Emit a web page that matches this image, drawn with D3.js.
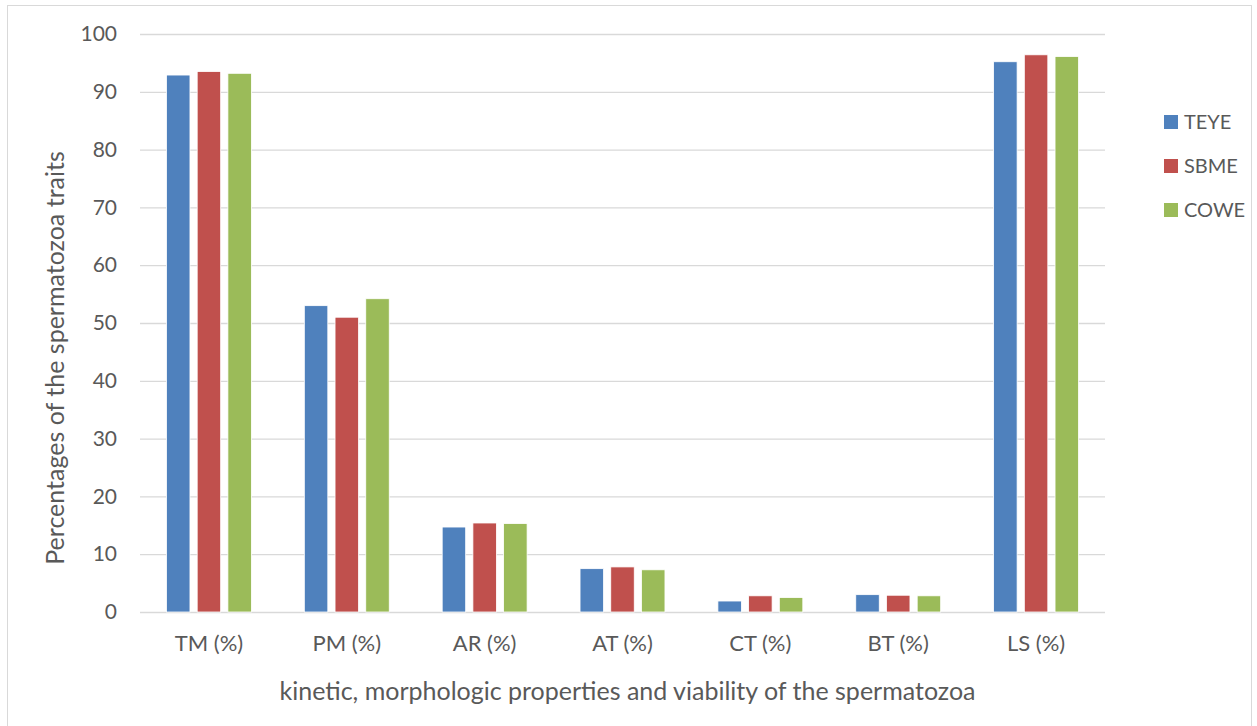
<!DOCTYPE html>
<html>
<head>
<meta charset="utf-8">
<script src="https://cdn.jsdelivr.net/npm/d3@7"></script>
<style>
  body { margin: 0; background: #fff; }
  text { font-family: Lato, "Open Sans", sans-serif; fill: #595959; }
</style>
</head>
<body>
<svg class="chart"></svg>
<script>
var categories = ["TM (%)", "PM (%)", "AR (%)", "AT (%)", "CT (%)", "BT (%)", "LS (%)"];
var seriesNames = ["TEYE", "SBME", "COWE"];
var teye = [92.9, 53.0, 14.7, 7.5, 1.9, 3.0, 95.2];
var sbme = [93.5, 51.0, 15.4, 7.8, 2.8, 2.9, 96.4];
var cowe = [93.2, 54.2, 15.3, 7.3, 2.5, 2.8, 96.1];
var colors = ["#4F81BD", "#C0504D", "#9BBB59"];
var yTicks = [0, 10, 20, 30, 40, 50, 60, 70, 80, 90, 100];

var width = 1257;
var height = 726;
var margin = {top: 34, right: 152, bottom: 114, left: 140};

var svg = d3.select(".chart")
	.attr("width", width)
	.attr("height", height);

// outer frame
svg.append("rect")
	.attr("x", 7.5)
	.attr("y", 5.5)
	.attr("width", 1244)
	.attr("height", 740)
	.attr("fill", "none")
	.attr("stroke", "#d9d9d9");

var x0 = d3.scaleBand()
	.domain(categories)
	.range([margin.left, width - margin.right]);

var groupWidth = x0.bandwidth() * 0.616;
var x1 = d3.scaleBand()
	.domain(seriesNames)
	.range([0, groupWidth])
	.paddingInner(0.235);

var y = d3.scaleLinear()
	.domain([0, 100])
	.range([height - margin.bottom, margin.top]);

// gridlines
var yAxis = d3.axisLeft(y)
	.tickValues(yTicks)
	.tickSize(-(width - margin.left - margin.right))
	.tickPadding(23);

var yg = svg.append("g")
	.attr("transform", "translate(" + margin.left + ",0)")
	.call(yAxis);
yg.select(".domain").remove();
yg.selectAll(".tick line").attr("stroke", "#d9d9d9").attr("stroke-width", 1.3);
yg.selectAll(".tick text").attr("font-size", 21).attr("fill", "#595959");

var rows = categories.map(function(c, i) {
	return {cat: c, values: [teye[i], sbme[i], cowe[i]]};
});

var groups = svg.append("g")
	.selectAll("g")
	.data(rows)
	.enter()
	.append("g")
		.attr("transform", function(d) {
			return "translate(" + (x0(d.cat) + (x0.bandwidth() - groupWidth) / 2) + ",0)";
		});

groups.selectAll("rect")
	.data(function(d) { return d.values.map(function(v, j) { return {name: seriesNames[j], value: v, j: j}; }); })
	.enter()
	.append("rect")
		.attr("x", function(d) { return x1(d.name); })
		.attr("y", function(d) { return y(d.value); })
		.attr("width", x1.bandwidth())
		.attr("height", function(d) { return y(0) - y(d.value); })
		.attr("fill", function(d) { return colors[d.j]; })
		.attr("stroke", "#fff")
		.attr("stroke-width", 0.8);

// x axis labels
var xAxis = d3.axisBottom(x0).tickSize(0).tickPadding(23);
var xg = svg.append("g")
	.attr("transform", "translate(0," + y(0) + ")")
	.call(xAxis);
xg.select(".domain").remove();
xg.selectAll(".tick text").attr("font-size", 22).attr("fill", "#595959");

// axis titles
svg.append("text")
	.attr("x", (margin.left + width - margin.right) / 2 + 5)
	.attr("y", 700)
	.attr("text-anchor", "middle")
	.attr("font-size", 25)
	.text("kinetic, morphologic properties and viability of the spermatozoa");

svg.append("text")
	.attr("transform", "translate(64," + ((margin.top + height - margin.bottom) / 2 + 35) + ") rotate(-90)")
	.attr("text-anchor", "middle")
	.attr("font-size", 25)
	.text("Percentages of the spermatozoa traits");

// legend
var legend = svg.append("g")
	.selectAll("g")
	.data(seriesNames)
	.enter()
	.append("g")
		.attr("transform", function(d, i) { return "translate(1164," + (122 + i * 44) + ")"; });

legend.append("rect")
	.attr("x", 0)
	.attr("y", -7)
	.attr("width", 14)
	.attr("height", 14)
	.attr("fill", function(d, i) { return colors[i]; });

legend.append("text")
	.attr("x", 20)
	.attr("y", 7)
	.attr("font-size", 20)
	.text(function(d) { return d; });
</script>
</body>
</html>
